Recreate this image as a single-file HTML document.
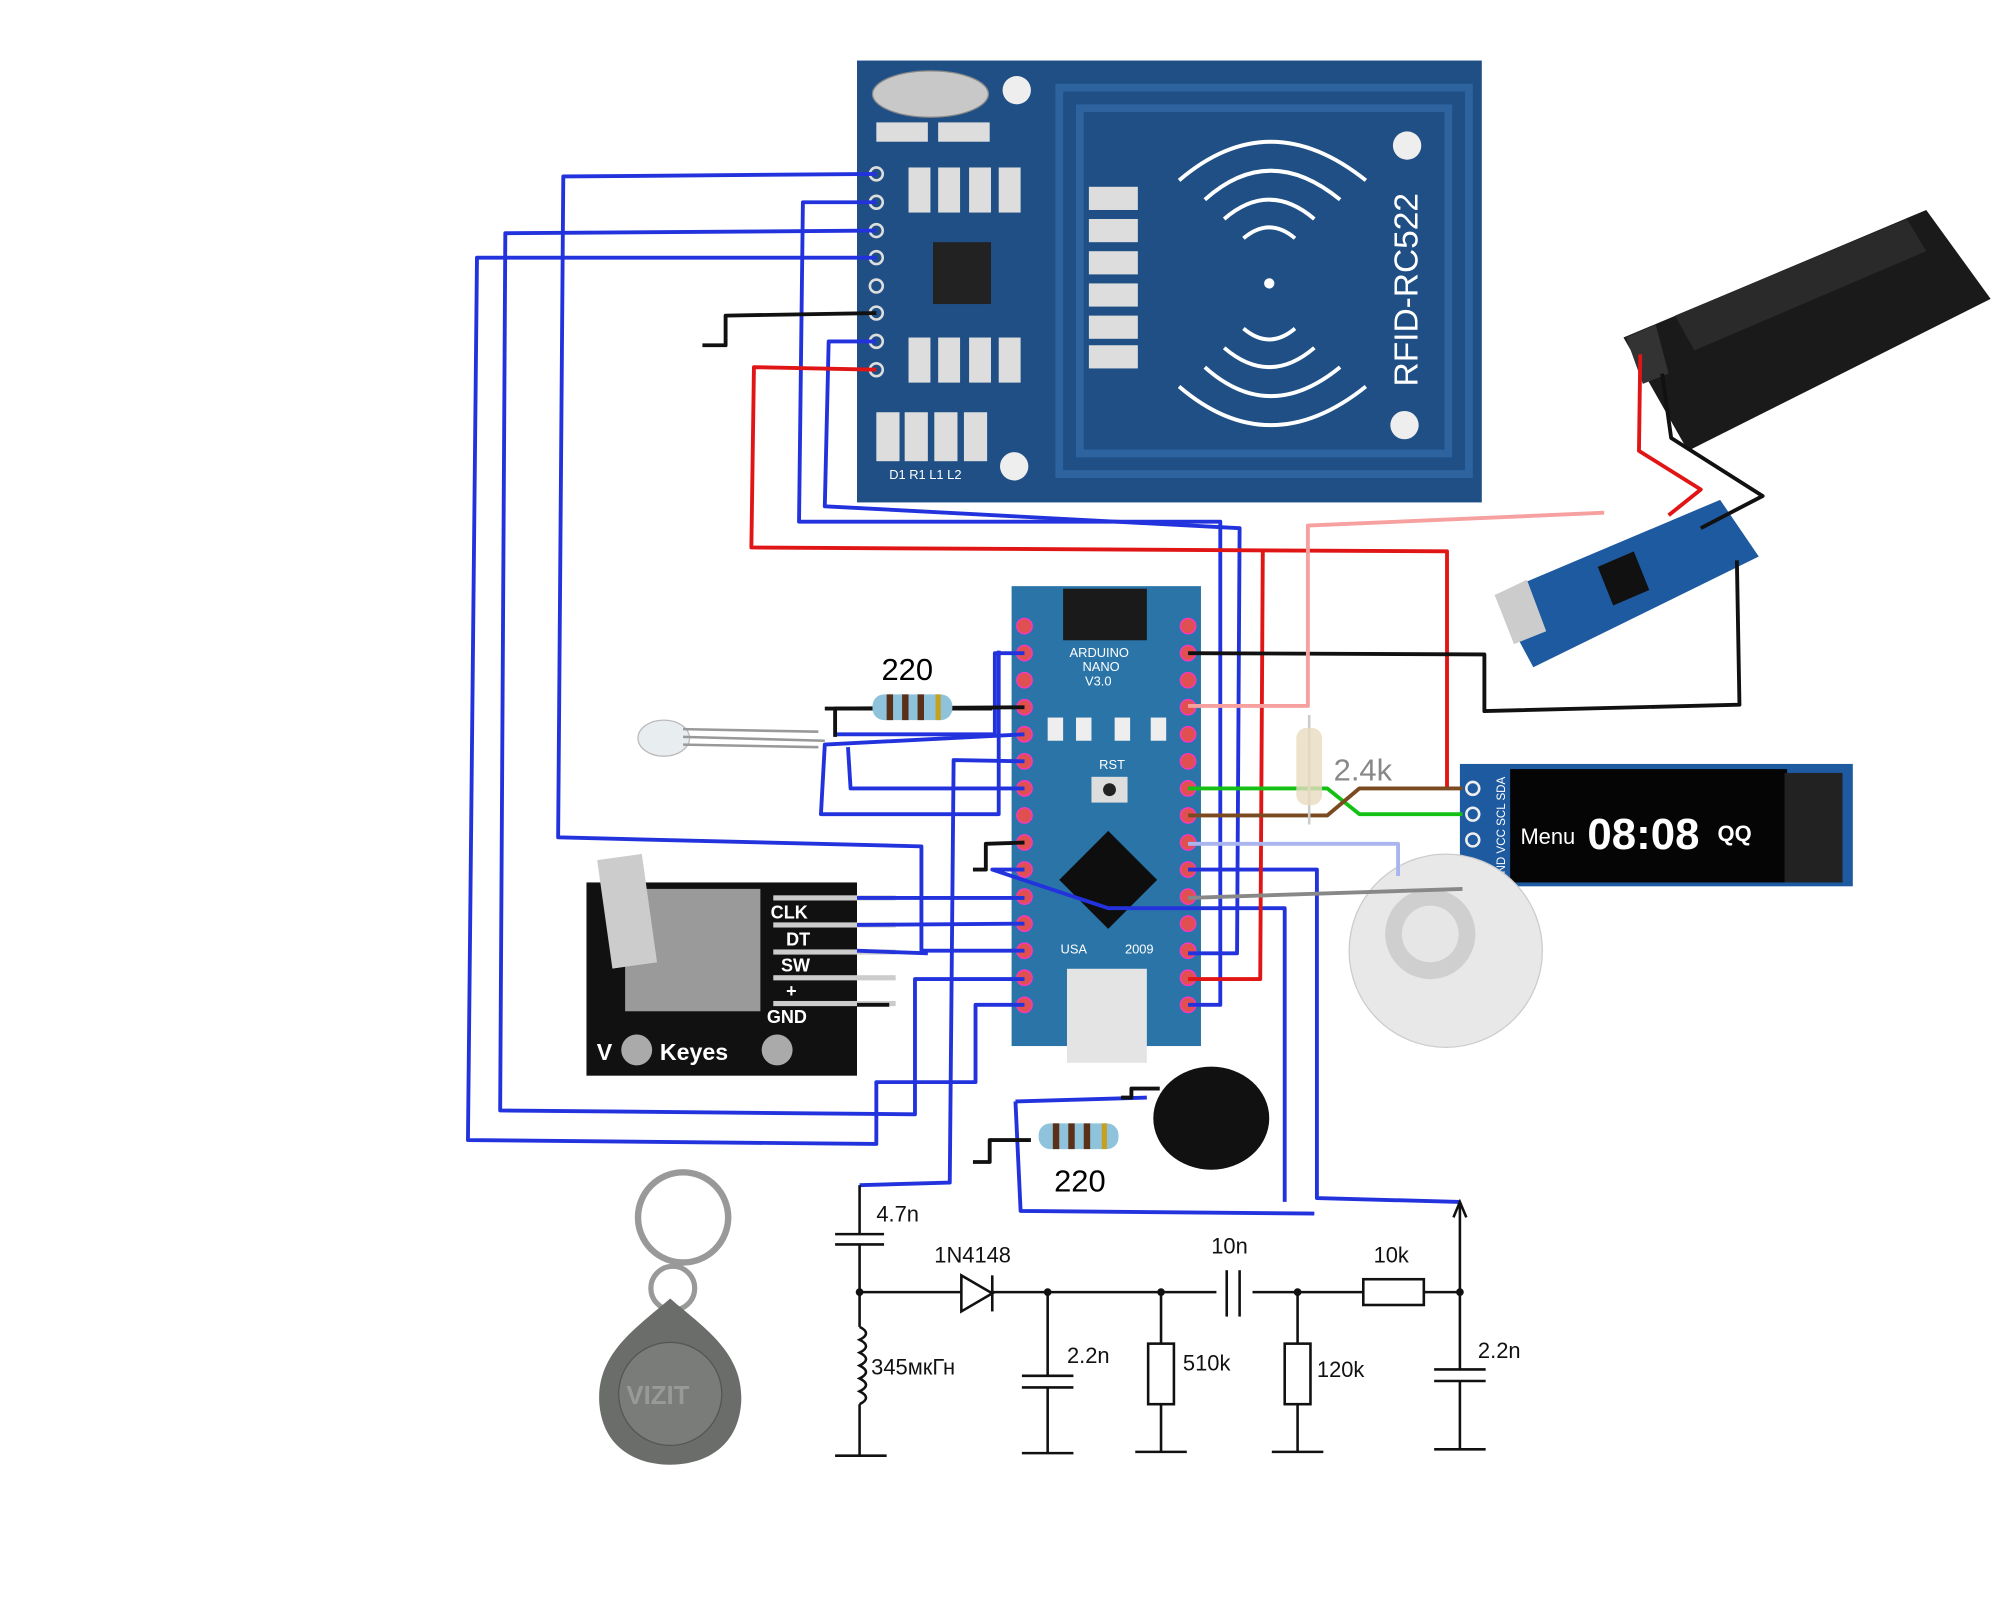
<!DOCTYPE html>
<html><head><meta charset="utf-8"><style>
html,body{margin:0;padding:0;background:#fff;}
svg{display:block;}
text{font-family:"Liberation Sans",sans-serif;}
</style></head><body>
<svg width="2000" height="1600" viewBox="0 0 1552 1242" xmlns="http://www.w3.org/2000/svg">
<rect width="1552" height="1242" fill="#fff"/>

<!-- RFID board -->
<rect x="665" y="47" width="485" height="343" fill="#1f4f85"/>
<rect x="822" y="68" width="318" height="300" fill="none" stroke="#2d64a0" stroke-width="6"/>
<rect x="838" y="84" width="286" height="268" fill="none" stroke="#2d64a0" stroke-width="6"/>
<ellipse cx="722" cy="73" rx="45" ry="18" fill="#c8c8c8" stroke="#888"/>
<circle cx="789" cy="70" r="11" fill="#eee"/><circle cx="1092" cy="113" r="11" fill="#eee"/>
<circle cx="1090" cy="330" r="11" fill="#eee"/><circle cx="787" cy="362" r="11" fill="#eee"/>
<rect x="724" y="188" width="45" height="48" fill="#222"/>
<g fill="none" stroke="#fff" stroke-width="3">
<path d="M935 155 Q985 110 1040 155"/><path d="M915 140 Q985 80 1060 140"/>
<path d="M950 170 Q985 140 1020 170"/><path d="M965 185 Q985 168 1005 185"/>
<path d="M935 285 Q985 330 1040 285"/><path d="M915 300 Q985 360 1060 300"/>
<path d="M950 270 Q985 300 1020 270"/><path d="M965 255 Q985 272 1005 255"/>
</g>
<circle cx="985" cy="220" r="4" fill="#fff"/>
<text x="1100" y="300" transform="rotate(-90 1100 300)" fill="#fff" font-size="26">RFID-RC522</text>
<g fill="#ddd"><rect x="705" y="130" width="17" height="35"/><rect x="728" y="130" width="17" height="35"/><rect x="752" y="130" width="17" height="35"/><rect x="775" y="130" width="17" height="35"/>
<rect x="705" y="262" width="17" height="35"/><rect x="728" y="262" width="17" height="35"/><rect x="752" y="262" width="17" height="35"/><rect x="775" y="262" width="17" height="35"/>
<rect x="845" y="145" width="38" height="18"/><rect x="845" y="170" width="38" height="18"/><rect x="845" y="195" width="38" height="18"/><rect x="845" y="220" width="38" height="18"/><rect x="845" y="245" width="38" height="18"/><rect x="845" y="268" width="38" height="18"/>
<rect x="680" y="320" width="18" height="38"/><rect x="702" y="320" width="18" height="38"/><rect x="725" y="320" width="18" height="38"/><rect x="748" y="320" width="18" height="38"/>
<rect x="680" y="95" width="40" height="15"/><rect x="728" y="95" width="40" height="15"/></g>
<g fill="#fff" font-size="10" font-family="Liberation Mono">
<text x="690" y="372">D1  R1  L1  L2</text>
</g>
<g fill="#1f4f85" stroke="#ddd" stroke-width="2">
<circle cx="680" cy="135" r="5"/><circle cx="680" cy="157" r="5"/><circle cx="680" cy="179" r="5"/><circle cx="680" cy="200" r="5"/><circle cx="680" cy="222" r="5"/><circle cx="680" cy="243" r="5"/><circle cx="680" cy="265" r="5"/><circle cx="680" cy="287" r="5"/>
</g>

<!-- Battery -->
<polygon points="1260,262 1495,163 1545,232 1310,350" fill="#1a1a1a"/>
<polygon points="1262,262 1285,252 1295,290 1275,298" fill="#333"/>
<polygon points="1300,245 1480,170 1495,195 1315,272" fill="#2a2a2a"/>
<!-- Charger -->
<polygon points="1160,462 1335,388 1365,432 1190,518" fill="#1e5aa0"/>
<polygon points="1160,462 1185,450 1200,490 1175,500" fill="#ccc"/>
<polygon points="1240,440 1268,428 1280,458 1252,470" fill="#111"/>

<!-- OLED -->
<rect x="1133" y="593" width="305" height="95" fill="#1e5aa0"/>
<rect x="1172" y="597" width="215" height="88" fill="#050505"/>
<rect x="1385" y="600" width="45" height="85" fill="#222"/>
<text x="1180" y="655" fill="#fff" font-size="17">Menu</text>
<text x="1232" y="659" fill="#fff" font-size="34" font-family="Liberation Mono" font-weight="bold">08:08</text>
<text x="1333" y="653" fill="#fff" font-size="17" font-weight="bold">QQ</text>
<g fill="#1e5aa0" stroke="#eee" stroke-width="2"><circle cx="1143" cy="612" r="5"/><circle cx="1143" cy="632" r="5"/><circle cx="1143" cy="652" r="5"/><circle cx="1143" cy="672" r="5"/></g>
<text x="1168" y="685" transform="rotate(-90 1168 685)" fill="#fff" font-size="9">GND VCC SCL SDA</text>

<!-- Buzzer disk -->
<circle cx="1122" cy="738" r="75" fill="#e8e8e8" stroke="#ccc"/>
<circle cx="1110" cy="725" r="35" fill="#cfcfcf"/>
<circle cx="1110" cy="725" r="22" fill="#e6e6e6"/>

<!-- Arduino nano -->
<rect x="785" y="455" width="147" height="357" fill="#2a74a8"/>
<rect x="825" y="457" width="65" height="40" fill="#1a1a1a"/>
<rect x="828" y="752" width="62" height="73" fill="#e4e4e4"/>
<polygon points="860,645 898,683 860,721 822,683" fill="#0e0e0e"/>
<rect x="847" y="603" width="28" height="20" fill="#ddd"/><circle cx="861" cy="613" r="5" fill="#222"/>
<rect x="813" y="557" width="12" height="18" fill="#eee"/><rect x="835" y="557" width="12" height="18" fill="#eee"/><rect x="865" y="557" width="12" height="18" fill="#eee"/><rect x="893" y="557" width="12" height="18" fill="#eee"/>
<g fill="#fff" font-size="10" font-family="Liberation Mono"><text x="830" y="510">ARDUINO</text><text x="840" y="521">NANO</text><text x="842" y="532">V3.0</text><text x="823" y="740">USA</text><text x="873" y="740">2009</text><text x="853" y="597">RST</text></g>
<g fill="#e05050" stroke="#f3c" stroke-width="1">
<circle cx="795" cy="486" r="6"/><circle cx="795" cy="507" r="6"/><circle cx="795" cy="528" r="6"/><circle cx="795" cy="549" r="6"/><circle cx="795" cy="570" r="6"/><circle cx="795" cy="591" r="6"/><circle cx="795" cy="612" r="6"/><circle cx="795" cy="633" r="6"/><circle cx="795" cy="654" r="6"/><circle cx="795" cy="675" r="6"/><circle cx="795" cy="696" r="6"/><circle cx="795" cy="717" r="6"/><circle cx="795" cy="738" r="6"/><circle cx="795" cy="759" r="6"/><circle cx="795" cy="780" r="6"/>
<circle cx="922" cy="486" r="6"/><circle cx="922" cy="507" r="6"/><circle cx="922" cy="528" r="6"/><circle cx="922" cy="549" r="6"/><circle cx="922" cy="570" r="6"/><circle cx="922" cy="591" r="6"/><circle cx="922" cy="612" r="6"/><circle cx="922" cy="633" r="6"/><circle cx="922" cy="654" r="6"/><circle cx="922" cy="675" r="6"/><circle cx="922" cy="696" r="6"/><circle cx="922" cy="717" r="6"/><circle cx="922" cy="738" r="6"/><circle cx="922" cy="759" r="6"/><circle cx="922" cy="780" r="6"/>
</g>

<!-- Encoder -->
<rect x="455" y="685" width="210" height="150" fill="#111"/>
<rect x="485" y="690" width="105" height="95" fill="#9a9a9a"/>
<rect x="468" y="665" width="35" height="85" fill="#ccc" transform="rotate(-8 485 700)"/>
<g fill="#ccc"><rect x="600" y="695" width="95" height="4"/><rect x="600" y="716" width="95" height="4"/><rect x="600" y="737" width="95" height="4"/><rect x="600" y="757" width="95" height="4"/><rect x="600" y="777" width="95" height="4"/></g>
<g fill="#fff" font-size="14" font-weight="bold"><text x="598" y="713">CLK</text><text x="610" y="734">DT</text><text x="606" y="754">SW</text><text x="610" y="774">+</text><text x="595" y="794">GND</text><text x="463" y="823" font-size="18">V</text><text x="512" y="823" font-size="18">Keyes</text></g>
<circle cx="494" cy="815" r="12" fill="#aaa"/><circle cx="603" cy="815" r="12" fill="#aaa"/>

<!-- LED -->
<ellipse cx="515" cy="573" rx="20" ry="14" fill="#e8eef0" stroke="#bbb"/>
<g stroke="#999" stroke-width="2"><line x1="530" y1="566" x2="635" y2="568"/><line x1="530" y1="572" x2="640" y2="575"/><line x1="530" y1="578" x2="635" y2="580"/></g>

<!-- Keyfob -->
<circle cx="530" cy="945" r="35" fill="none" stroke="#999" stroke-width="5"/>
<circle cx="522" cy="1000" r="17" fill="none" stroke="#999" stroke-width="4"/>
<path d="M520 1008 C545 1030 578 1050 575 1090 C572 1125 545 1137 520 1137 C495 1137 468 1125 465 1090 C462 1050 495 1030 520 1008Z" fill="#6b6d6a"/>
<circle cx="520" cy="1082" r="40" fill="#7a7c79" stroke="#555"/>
<text x="486" y="1090" fill="#999" font-size="20" font-weight="bold">VIZIT</text>

<!-- Buzzer -->
<ellipse cx="940" cy="868" rx="45" ry="40" fill="#111"/>

<!-- wires -->
<g fill="none" stroke-width="3" stroke-linejoin="round">
<g stroke="#2233dd">
<polyline points="680,135 437,137 433,650 715,657 715,738 795,738"/>
<polyline points="680,157 623,157 620,405 947,405 947,780 922,780"/>
<polyline points="680,179 392,181 388,862 710,865 710,760 795,760"/>
<polyline points="680,200 370,200 363,885 680,888 680,840 757,840 757,780 795,780"/>
<polyline points="680,265 643,265 640,393 962,410 960,740 922,740"/>
<polyline points="795,507 772,507 772,570 648,570"/>
<polyline points="795,570 640,578 637,632 775,632 775,505"/>
<polyline points="795,612 660,612 658,580"/>
<polyline points="665,697 795,697"/>
<polyline points="665,718 795,717"/>
<polyline points="665,738 720,740"/>
<polyline points="667,920 737,918 740,590 795,591"/>
<polyline points="1133,933 1022,930 1022,675 922,675"/>
<polyline points="788,855 890,852"/>
<polyline points="788,855 792,940 1020,942"/>
<polyline points="795,675 770,675 860,705 997,705 997,933"/>
</g>
<g stroke="#e01515">
<polyline points="680,287 585,285 583,425 1123,428 1123,612"/>
<polyline points="980,428 978,760 922,760"/>
<polyline points="1273,275 1272,350 1320,380 1295,400"/>
</g>
<g stroke="#111">
<polyline points="680,243 563,245 563,268 545,268"/>
<polyline points="922,507 1152,508 1152,552 1350,547 1348,435"/>
<polyline points="1290,290 1297,340 1368,385 1320,410"/>
<polyline points="795,549 648,550 648,572"/>
<polyline points="795,654 765,655 765,675 755,675"/>
<polyline points="800,885 768,885 768,902 755,902"/>
<polyline points="870,852 878,852 878,845 900,845"/>
<polyline points="665,780 690,780"/>
</g>
<polyline stroke="#f7a0a0" points="922,548 1015,548 1015,408 1245,398"/>
<polyline stroke="#15c015" points="922,612 1030,612 1055,632 1135,632"/>
<polyline stroke="#7a4a20" points="922,633 1030,633 1055,612 1135,612"/>
<polyline stroke="#aab4ee" points="922,655 1085,655 1085,680"/>
<polyline stroke="#888" points="922,697 1135,690"/>
</g>

<!-- resistors -->
<g>
<line x1="640" y1="550" x2="770" y2="550" stroke="#111" stroke-width="3"/>
<rect x="677" y="539" width="62" height="20" rx="9" fill="#8fc3dc"/>
<g fill="#5a3018"><rect x="688" y="539" width="5" height="20"/><rect x="700" y="539" width="5" height="20"/><rect x="712" y="539" width="5" height="20"/><rect x="726" y="539" width="4" height="20" fill="#c8a020"/></g>
<text x="684" y="528" font-size="24">220</text>
<rect x="806" y="872" width="62" height="20" rx="9" fill="#8fc3dc"/>
<g fill="#5a3018"><rect x="817" y="872" width="5" height="20"/><rect x="829" y="872" width="5" height="20"/><rect x="841" y="872" width="5" height="20"/><rect x="855" y="872" width="4" height="20" fill="#c8a020"/></g>
<text x="818" y="925" font-size="24">220</text>
<line x1="1016" y1="555" x2="1016" y2="640" stroke="#ccc" stroke-width="2"/>
<rect x="1006" y="565" width="20" height="60" rx="8" fill="#e8dcc0" opacity="0.8"/>
<text x="1035" y="606" font-size="24" fill="#888">2.4k</text>
</g>

<!-- bottom circuit -->
<g fill="none" stroke="#111" stroke-width="2">
<line x1="667" y1="920" x2="667" y2="958"/>
<line x1="648" y1="958" x2="686" y2="958"/><line x1="648" y1="966" x2="686" y2="966"/>
<line x1="667" y1="966" x2="667" y2="1030"/>
<line x1="667" y1="1003" x2="1133" y2="1003"/>
<path d="M667 1030 q10 5 0 10 q10 5 0 10 q10 5 0 10 q10 5 0 10 q10 5 0 10 q10 5 0 10"/>
<line x1="667" y1="1090" x2="667" y2="1130"/><line x1="648" y1="1130" x2="688" y2="1130"/>
<polygon points="746,990 746,1018 770,1004" fill="#fff"/><line x1="770" y1="990" x2="770" y2="1018"/>
<line x1="813" y1="1003" x2="813" y2="1068"/><line x1="793" y1="1068" x2="833" y2="1068"/><line x1="793" y1="1077" x2="833" y2="1077"/><line x1="813" y1="1077" x2="813" y2="1128"/><line x1="793" y1="1128" x2="833" y2="1128"/>
<line x1="901" y1="1003" x2="901" y2="1043"/><rect x="891" y="1043" width="20" height="47"/><line x1="901" y1="1090" x2="901" y2="1127"/><line x1="881" y1="1127" x2="921" y2="1127"/>
<rect x="944" y="995" width="28" height="16" fill="#fff" stroke="none"/><line x1="952" y1="986" x2="952" y2="1022"/><line x1="962" y1="986" x2="962" y2="1022"/>
<line x1="1007" y1="1003" x2="1007" y2="1043"/><rect x="997" y="1043" width="20" height="47"/><line x1="1007" y1="1090" x2="1007" y2="1127"/><line x1="987" y1="1127" x2="1027" y2="1127"/>
<rect x="1058" y="993" width="47" height="20" fill="#fff"/>
<line x1="1133" y1="935" x2="1133" y2="1063"/><line x1="1113" y1="1063" x2="1153" y2="1063"/><line x1="1113" y1="1072" x2="1153" y2="1072"/><line x1="1133" y1="1072" x2="1133" y2="1125"/><line x1="1113" y1="1125" x2="1153" y2="1125"/>
<polyline points="1128,945 1133,933 1138,945"/>
</g>
<g fill="#111"><circle cx="667" cy="1003" r="3"/><circle cx="813" cy="1003" r="3"/><circle cx="901" cy="1003" r="3"/><circle cx="1007" cy="1003" r="3"/><circle cx="1133" cy="1003" r="3"/></g>
<g font-size="17" fill="#111">
<text x="680" y="948">4.7n</text><text x="725" y="980">1N4148</text><text x="940" y="973">10n</text><text x="1066" y="980">10k</text>
<text x="676" y="1067">345мкГн</text><text x="828" y="1058">2.2n</text><text x="918" y="1064">510k</text><text x="1022" y="1069">120k</text><text x="1147" y="1054">2.2n</text>
</g>
</svg>
</body></html>
